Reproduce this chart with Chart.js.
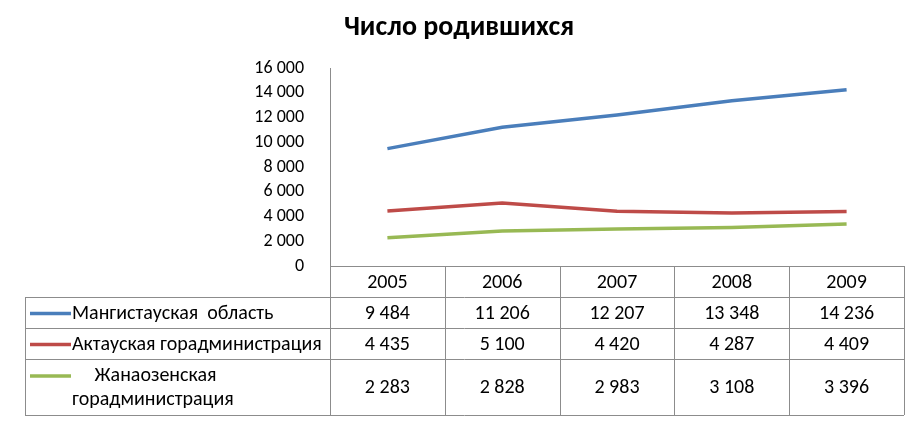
<!DOCTYPE html>
<html lang="ru">

<head>
    <meta charset="UTF-8">
    <title>Число родившихся</title>
    <script src="https://cdn.jsdelivr.net/npm/chart.js"></script>
    <style>
        body { margin: 0; background: #fff; }
        .grafico { width: 922px; height: 432px; }
    </style>
</head>

<body>
    <div class="grafico">
        <canvas id="nascimentos"></canvas>
    </div>
</body>

<script>

    var anos = ['2005', '2006', '2007', '2008', '2009'];
    var mangistau = [9484, 11206, 12207, 13348, 14236];
    var aktau = [4435, 5100, 4420, 4287, 4409];
    var zhanaozen = [2283, 2828, 2983, 3108, 3396];
    var nomesSeries = [
        ['Мангистауская  область'],
        ['Актауская горадминистрация'],
        ['     Жанаозенская', 'горадминистрация']
    ];
    var coresSeries = ['#4A7EBB', '#BE4B48', '#98B954'];

    var fonte = "Carlito, Calibri, Lato, 'Open Sans', sans-serif";
    var corBorda = '#8c8c8c';

    function formatar(v) {
        return String(v).replace(/\B(?=(\d{3})+(?!\d))/g, ' ');
    }

    var serieDados = [mangistau, aktau, zhanaozen];

    // tabela de dados embaixo do grafico (estilo Excel)
    var tabelaPlugin = {
        id: 'tabela',
        afterDraw: function (chart) {
            var ctx = chart.ctx;
            var x = chart.scales.x;
            var area = chart.chartArea;
            var metade = (x.getPixelForValue(1) - x.getPixelForValue(0)) / 2;
            var esquerda = x.getPixelForValue(0) - metade;
            var direita = x.getPixelForValue(anos.length - 1) + metade;
            var linhas = [area.bottom, 297, 328, 359, 415];
            var inicioTabela = 25;

            ctx.save();
            ctx.strokeStyle = corBorda;
            ctx.lineWidth = 1;

            // linhas horizontais
            ctx.beginPath();
            ctx.moveTo(esquerda, linhas[0] + 0.5);
            ctx.lineTo(direita, linhas[0] + 0.5);
            for (var r = 1; r < linhas.length; r++) {
                ctx.moveTo(inicioTabela, linhas[r] + 0.5);
                ctx.lineTo(direita, linhas[r] + 0.5);
            }
            // linhas verticais
            ctx.moveTo(inicioTabela + 0.5, linhas[1]);
            ctx.lineTo(inicioTabela + 0.5, linhas[4]);
            for (var c = 0; c <= anos.length; c++) {
                var xc = Math.round(esquerda + c * metade * 2) + 0.5;
                ctx.moveTo(xc, c === 0 ? area.top : linhas[0]);
                ctx.lineTo(xc, linhas[4]);
            }
            ctx.stroke();

            // cabecalho com os anos
            ctx.fillStyle = '#000';
            ctx.font = '20px ' + fonte;
            ctx.textAlign = 'center';
            ctx.textBaseline = 'middle';
            for (var i = 0; i < anos.length; i++) {
                ctx.fillText(anos[i], x.getPixelForValue(i), (linhas[0] + linhas[1]) / 2 + 1);
            }

            // linhas das series
            for (var s = 0; s < serieDados.length; s++) {
                var yc = (linhas[s + 1] + linhas[s + 2]) / 2 + 1;
                for (var j = 0; j < anos.length; j++) {
                    ctx.textAlign = 'center';
                    ctx.fillText(formatar(serieDados[s][j]), x.getPixelForValue(j), yc);
                }
                var nome = nomesSeries[s];
                var y0 = nome.length > 1 ? yc - 12 : yc;
                ctx.strokeStyle = coresSeries[s];
                ctx.lineWidth = 3.5;
                ctx.beginPath();
                ctx.moveTo(30, y0);
                ctx.lineTo(71, y0);
                ctx.stroke();
                ctx.textAlign = 'left';
                for (var k = 0; k < nome.length; k++) {
                    ctx.fillText(nome[k], 72, y0 + k * 24);
                }
            }
            ctx.restore();
        }
    };

    var ctx = document.getElementById('nascimentos').getContext('2d');
    var myChart = new Chart(ctx, {
        type: 'line',
        data: {
            labels: anos,
            datasets: [{
                label: nomesSeries[0].join(' '),
                data: mangistau,
                borderColor: coresSeries[0]
            }, {
                label: nomesSeries[1].join(' '),
                data: aktau,
                borderColor: coresSeries[1]
            }, {
                label: nomesSeries[2].join(' ').trim(),
                data: zhanaozen,
                borderColor: coresSeries[2]
            }]
        },
        options: {
            responsive: true,
            maintainAspectRatio: false,
            animation: false,
            elements: {
                line: { borderWidth: 3.5, tension: 0 },
                point: { radius: 0, hoverRadius: 0 }
            },
            layout: {
                padding: { top: 0, left: 14, right: 18, bottom: 166 }
            },
            plugins: {
                legend: { display: false },
                tooltip: { enabled: false },
                title: {
                    display: true,
                    text: 'Число родившихся',
                    color: '#000',
                    font: { family: fonte, size: 28, weight: 'bold' },
                    padding: { top: 11, bottom: 23.4 }
                }
            },
            scales: {
                x: {
                    type: 'category',
                    offset: true,
                    display: false
                },
                y: {
                    min: 0,
                    max: 16000,
                    afterFit: function (scale) {
                        scale.width = 316;
                    },
                    grid: { display: false },
                    border: { display: false },
                    ticks: {
                        stepSize: 2000,
                        padding: 18,
                        color: '#000',
                        font: { family: fonte, size: 18 },
                        callback: function (v) { return formatar(v); }
                    }
                }
            }
        },
        plugins: [tabelaPlugin]
    });

</script>

</html>
